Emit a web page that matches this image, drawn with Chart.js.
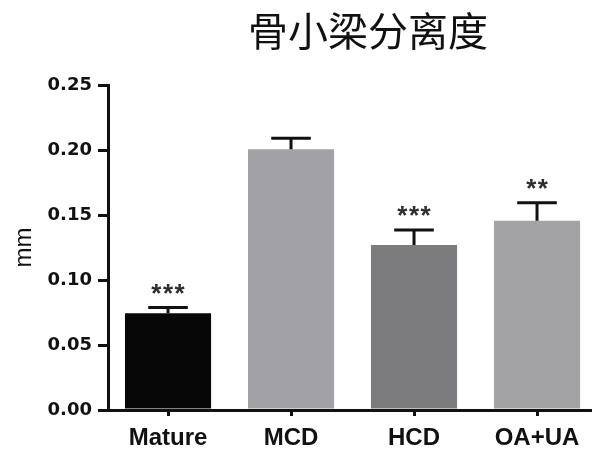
<!DOCTYPE html>
<html>
<head>
<meta charset="utf-8">
<script src="https://cdn.jsdelivr.net/npm/chart.js@4/dist/chart.umd.min.js"></script>
<style>
  html, body { margin: 0; padding: 0; background: #fff; }
  canvas { display: block; }
</style>
</head>
<body>
<canvas id="chart" width="592" height="455"></canvas>
<script>
// Trabecular separation per group (mean + SEM, in mm)
const chartTitle = '骨小梁分离度';
const axisTitle = 'mm';
const categories = ['Mature', 'MCD', 'HCD', 'OA+UA'];
const meanValues = [0.0745, 0.2005, 0.127, 0.1455];
const errorValues = [0.0043, 0.0085, 0.0115, 0.014];
const significance = ['***', '', '***', '**'];
const barColors = ['#070707', '#a2a2a6', '#7c7c7e', '#a3a3a6'];
const yTicks = [0, 0.05, 0.10, 0.15, 0.20, 0.25];

// Upper whiskers with caps, plus significance stars above them
const errorBarPlugin = {
  id: 'errorBars',
  afterDatasetsDraw(chart) {
    const meta = chart.getDatasetMeta(0);
    const yScale = chart.scales.y;
    const ctx = chart.ctx;
    ctx.save();
    ctx.strokeStyle = '#111';
    ctx.lineWidth = 3;
    ctx.lineCap = 'butt';
    meta.data.forEach((bar, i) => {
      const top = yScale.getPixelForValue(meanValues[i] + errorValues[i]);
      const half = bar.width * 0.23;
      ctx.beginPath();
      ctx.moveTo(bar.x, bar.y);
      ctx.lineTo(bar.x, top);
      ctx.moveTo(bar.x - half, top);
      ctx.lineTo(bar.x + half, top);
      ctx.stroke();
      if (significance[i]) {
        ctx.fillStyle = '#2e2e2e';
        ctx.font = 'bold 26px "Liberation Sans", Arial, sans-serif';
        ctx.letterSpacing = '1.5px';
        ctx.textAlign = 'center';
        ctx.textBaseline = 'alphabetic';
        ctx.fillText(significance[i], bar.x + 0.75, top - 6);
      }
    });
    ctx.restore();
  }
};

// Chart heading, centred over the plotted groups
const headingPlugin = {
  id: 'heading',
  afterDraw(chart) {
    const ctx = chart.ctx;
    ctx.save();
    ctx.fillStyle = '#111';
    ctx.font = '40px "Noto Sans CJK SC", sans-serif';
    ctx.textAlign = 'center';
    ctx.textBaseline = 'middle';
    ctx.fillText(chartTitle, 368, 31);
    ctx.restore();
  }
};

new Chart(document.getElementById('chart'), {
  type: 'bar',
  data: {
    datasets: [{
      data: categories.map((c, i) => ({ x: i, y: meanValues[i] })),
      backgroundColor: barColors,
      borderWidth: 0,
      barPercentage: 0.7,
      categoryPercentage: 1.0
    }]
  },
  options: {
    responsive: false,
    animation: false,
    layout: { padding: { top: 85, left: 0, right: 0, bottom: 0 } },
    plugins: {
      legend: { display: false },
      tooltip: { enabled: false },
      title: { display: false }
    },
    scales: {
      x: {
        type: 'linear',
        offset: false,
        min: -0.488,
        max: 3.447,
        afterBuildTicks: s => { s.ticks = categories.map((c, i) => ({ value: i })); },
        afterFit: s => { s.height = 45; },
        border: { display: true, color: '#111', width: 3 },
        grid: { display: true, offset: false, drawOnChartArea: false, drawTicks: true, tickLength: 6, color: '#111', lineWidth: 3 },
        ticks: {
          callback: v => categories[v],
          color: '#111',
          padding: 8,
          maxRotation: 0,
          autoSkip: false,
          font: { family: '"Liberation Sans", Arial, sans-serif', size: 24, weight: 'bold' }
        }
      },
      y: {
        min: 0,
        max: 0.25,
        afterBuildTicks: s => { s.ticks = yTicks.map(v => ({ value: v })); },
        afterFit: s => { s.width = 108; },
        border: { display: true, color: '#111', width: 3 },
        grid: { display: true, drawOnChartArea: false, drawTicks: true, tickLength: 10, color: '#111', lineWidth: 3 },
        ticks: {
          callback: v => Number(v).toFixed(2),
          color: '#111',
          padding: 6,
          font: { family: '"DejaVu Sans", sans-serif', size: 18, weight: 'bold' }
        },
        title: {
          display: true,
          text: axisTitle,
          color: '#111',
          padding: { top: 10, bottom: 0 },
          font: { family: '"Liberation Sans", Arial, sans-serif', size: 24, weight: 'normal' }
        }
      }
    }
  },
  plugins: [errorBarPlugin, headingPlugin]
});
</script>
</body>
</html>
